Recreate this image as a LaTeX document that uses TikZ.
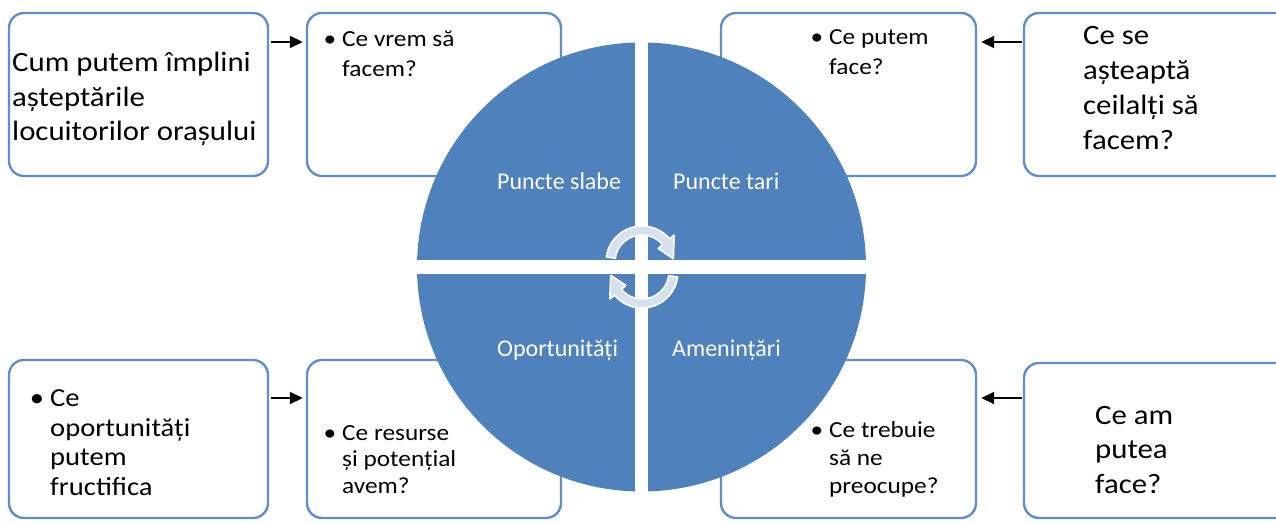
\documentclass[tikz,border=0pt]{standalone}
\usepackage{fontspec}
\setmainfont{Carlito}
\newfontfamily\boxfont{Carlito}[FakeStretch=1.1]
\usetikzlibrary{arrows.meta,calc}
\definecolor{swotblue}{RGB}{79,129,189}
\definecolor{boxblue}{RGB}{98,142,198}
\definecolor{arrowfill}{RGB}{214,225,240}
\tikzset{
  box/.style={draw=boxblue, line width=2.4pt, rounded corners=15pt, fill=white, inner sep=0pt},
  btext/.style={anchor=base west, align=left, inner sep=0pt, text=black},
  big/.style={font=\boxfont\fontsize{28}{34.5}\selectfont},
  small/.style={font=\boxfont\fontsize{23}{30}\selectfont},
  qlabel/.style={anchor=base west, inner sep=0pt, text=white, font=\fontsize{24}{28}\selectfont},
  conn/.style={draw=black, line width=1.8pt, -{Triangle[length=13pt,width=12pt]}},
  rotarrow/.style={fill=arrowfill, draw=white, line width=1.6pt, line join=round}
}
\newcommand{\bul}{\llap{\textbullet\hspace{6pt}}}
\begin{document}
\begin{tikzpicture}[x=1pt,y=1pt]
\useasboundingbox (0,0) rectangle (1276,522);
\clip (0,0) rectangle (1276,522);
\fill[white] (0,0) rectangle (1276,522);
% boxes
\node[box, minimum width=259pt, minimum height=163pt] (A) at (138.5,427.5) {};
\node[box, minimum width=254pt, minimum height=163pt] (B) at (434,427.5) {};
\node[box, minimum width=255pt, minimum height=163pt] (C) at (848.5,427.5) {};
\node[box, minimum width=266pt, minimum height=163pt] (D) at (1157,427.5) {};
\node[box, minimum width=259pt, minimum height=158pt] (E) at (138.5,83) {};
\node[box, minimum width=254pt, minimum height=158pt] (F) at (434,83) {};
\node[box, minimum width=255pt, minimum height=158pt] (G) at (848.5,83) {};
\node[box, minimum width=266pt, minimum height=155pt] (H) at (1157,81.5) {};
% connectors
\draw[conn] ([xshift=2pt]A.east |- 0,480) -- ([xshift=-3pt]B.west |- 0,480);
\draw[conn] ([xshift=-1pt]D.west |- 0,480) -- ([xshift=4pt]C.east |- 0,480);
\draw[conn] ([xshift=2pt]E.east |- 0,124) -- ([xshift=-3pt]F.west |- 0,124);
\draw[conn] ([xshift=-1pt]H.west |- 0,124) -- ([xshift=4pt]G.east |- 0,124);
% circle
\coordinate (O) at (641.5,255);
\fill[swotblue] (O) circle (224.5);
\fill[white] (635,30) rectangle (648,480);
\fill[white] (415,248) rectangle (868,262);
% rotating arrows
\coordinate (T) at (642,260);
\path[rotarrow] ($(T)+(172:36)$) arc[start angle=172, end angle=40, radius=36]
  -- ($(T)+(40:42)$) -- ($(T)+(6:31.5)$) -- ($(T)+(40:21)$) -- ($(T)+(40:27)$)
  arc[start angle=40, end angle=172, radius=27] -- cycle;
\coordinate (U) at (642,250);
\path[rotarrow] ($(U)+(-8:36)$) arc[start angle=-8, end angle=-140, radius=36]
  -- ($(U)+(220:42)$) -- ($(U)+(186:31.5)$) -- ($(U)+(220:21)$) -- ($(U)+(220:27)$)
  arc[start angle=-140, end angle=-8, radius=27] -- cycle;
% quadrant labels
\node[qlabel] (q1) at (497,332) {Puncte slabe};
\node[qlabel] (q2) at (673,332) {Puncte tari};
\node[qlabel] (q3) at (497,165) {Oportunități};
\node[qlabel] (q4) at (672,165) {Amenințări};
% box texts (anchor = baseline of the last line)
\node[btext, big] (tA) at (12,381) {Cum putem împlini\\așteptările\\locuitorilor orașului};
\node[btext, small] (tB) at (342,445) {\bul Ce vrem să\\facem?};
\node[btext, small] (tC) at (829,447) {\bul Ce putem\\face?};
\node[btext, font=\boxfont\fontsize{28}{35}\selectfont] (tD) at (1083,372) {Ce se\\așteaptă\\ceilalți să\\facem?};
\node[btext, font=\boxfont\fontsize{26}{29.5}\selectfont] (tE) at (50,27) {\bul Ce\\oportunități\\putem\\fructifica};
\node[btext, font=\boxfont\fontsize{23}{26.5}\selectfont] (tF) at (342,29) {\bul Ce resurse\\și potențial\\avem?};
\node[btext, font=\boxfont\fontsize{23}{28}\selectfont] (tG) at (829,29) {\bul Ce trebuie\\să ne\\preocupe?};
\node[btext, font=\boxfont\fontsize{28}{35}\selectfont] (tH) at (1095,28) {Ce am\\putea\\face?};
\end{tikzpicture}
\end{document}
